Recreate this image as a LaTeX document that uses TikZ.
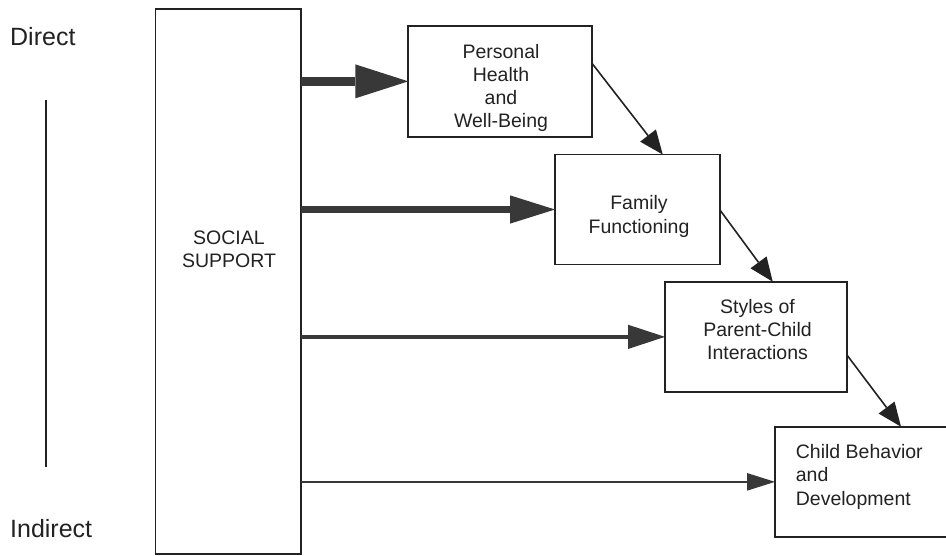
\documentclass[tikz,border=0pt]{standalone}
\usepackage{fontspec}
\setmainfont{Liberation Sans}
\usetikzlibrary{arrows.meta,calc}
\definecolor{ink}{RGB}{34,34,34}
\definecolor{arrowgray}{RGB}{56,56,56}
\begin{document}
\begin{tikzpicture}[x=1pt,y=-1pt,
  panel/.style={draw=ink,line width=1.8pt,inner sep=0pt,outer sep=0pt},
  txt/.style={font=\fontsize{19.5}{23.1}\selectfont,align=center,inner sep=0pt,text=ink},
  lbl/.style={font=\fontsize{25}{30}\selectfont,inner sep=0pt,text=ink},
  feed/.style n args={3}{draw=arrowgray,line width=#1,
    -{Triangle[length=#2,width=#3,line width=0pt]}},
  chain/.style={draw=ink,line width=1.6pt,
    -{Triangle[length=24pt,width=20pt,line width=0pt]}}]
  \clip (0,0) rectangle (946,555);

  % direct / indirect scale
  \node[lbl,anchor=base west] (direct) at (10,45) {Direct};
  \node[lbl,anchor=base west] (indirect) at (10,537) {Indirect};
  \coordinate (scaletop) at (45.7,100);
  \coordinate (scalebot) at (45.7,467);
  \draw[ink,line width=1.8pt] (scaletop) -- (scalebot);

  % boxes
  \node[panel,minimum width=145.2pt,minimum height=545pt] (ss) at (228.1,281.5) {};
  \node[panel,minimum width=183.7pt,minimum height=110.7pt] (ph) at (500.15,81.35) {};
  \node[panel,minimum width=165pt,minimum height=110pt] (ff) at (637.5,209.5) {};
  \node[panel,minimum width=182pt,minimum height=110.3pt] (pc) at (756,336.85) {};
  \node[panel,minimum width=185pt,minimum height=110.3pt] (cb) at (867.5,481.85) {};

  % box texts (anchored at the baseline of the last line)
  \node[txt,anchor=base] (ssT) at (229,267.7) {SOCIAL\\SUPPORT};
  \node[txt,anchor=base] (phT) at (501,127.7) {Personal\\Health\\and\\Well-Being};
  \node[txt,anchor=base] (ffT) at (639,233) {Family\\Functioning};
  \node[txt,anchor=base] (pcT) at (757.5,359.3) {Styles of\\Parent-Child\\Interactions};
  \node[txt,anchor=base west,align=left] (cbT) at (795.7,505) {Child Behavior\\and\\Development};

  % direct effects of social support
  \draw[feed={8.3pt}{53pt}{34pt}] (ss.east |- ph.west) -- (ph.west);
  \draw[feed={6.3pt}{45pt}{28.3pt}] (ss.east |- ff.west) -- (ff.west);
  \draw[feed={4.5pt}{37pt}{24.3pt}] (ss.east |- pc.west) -- (pc.west);
  \draw[feed={2.6pt}{28pt}{17.7pt}] (ss.east |- cb.west) -- (cb.west);

  % cascade between outcomes
  \draw[chain] ($(ph.north east)!0.337!(ph.south east)$) -- ($(ff.north west)!0.653!(ff.north east)$);
  \draw[chain] ($(ff.north east)!0.505!(ff.south east)$) -- ($(pc.north west)!0.592!(pc.north east)$);
  \draw[chain] ($(pc.north east)!0.665!(pc.south east)$) -- ($(cb.north west)+(126,0)$);
\end{tikzpicture}
\end{document}
